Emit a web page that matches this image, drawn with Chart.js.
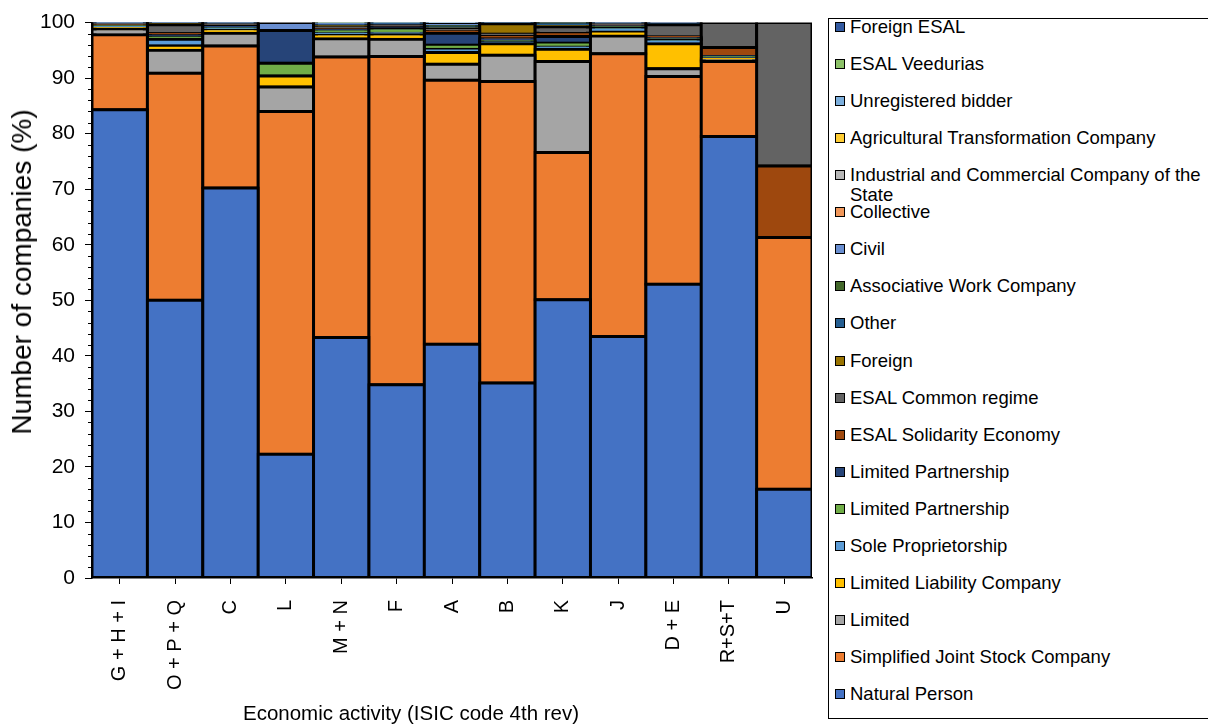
<!DOCTYPE html>
<html>
<head>
<meta charset="utf-8">
<script src="https://cdn.jsdelivr.net/npm/chart.js@4.4.1/dist/chart.umd.min.js"></script>
<style>
  body { margin: 0; background: #fff; font-family: "Liberation Sans", Arial, sans-serif; }
  #wrap { position: relative; width: 1208px; height: 728px; overflow: hidden; }
  #chart { position: absolute; left: 0; top: 0; }
  .axis-title { position: absolute; color: #000; white-space: nowrap; }
  #yTitle { left: 22px; top: 272px; font-size: 28px; transform: translate(-50%, -50%) rotate(-90deg); }
  #xTitle { left: 411px; top: 713px; font-size: 20.5px; transform: translate(-50%, -50%); }
  #legend { position: absolute; left: 828px; top: 18px; width: 400px; height: 701px; border: 1.5px solid #000; box-sizing: border-box; }
  .item { position: absolute; left: 0; width: 380px; font-size: 18.5px; line-height: 20px; color: #000; }
  .item .box { position: absolute; left: 6px; top: 5px; width: 10px; height: 10px; border: 1px solid #000; box-sizing: border-box; }
  .item .txt { position: absolute; left: 21px; top: 0; width: 356px; white-space: normal; }
</style>
</head>
<body>
<div id="wrap">
  <canvas id="chart" width="826" height="728"></canvas>
  <div id="yTitle" class="axis-title">Number of companies (%)</div>
  <div id="xTitle" class="axis-title">Economic activity (ISIC code 4th rev)</div>
  <div id="legend"></div>
</div>
<script>
// --- Data (percent of companies per economic activity) ---
const categories = ['G + H + I', 'O + P + Q', 'C', 'L', 'M + N', 'F', 'A', 'B', 'K', 'J', 'D + E', 'R+S+T', 'U'];

const naturalPerson   = [84.3, 50.0, 70.2, 22.3, 43.3, 34.8, 42.1, 35.1, 50.1, 43.5, 52.9, 79.5, 16.0];
const simplifiedJSC   = [13.5, 40.9, 25.6, 61.7, 50.5, 59.1, 47.5, 54.3, 26.5, 50.9, 37.4, 13.5, 45.3];
const limited         = [1.0, 4.1, 2.3, 4.4, 3.3, 3.1, 2.9, 4.7, 16.4, 3.2, 1.4, 0.2, 0];
const limitedLiab     = [0.2, 0.8, 0.5, 2.0, 0.6, 0.8, 2.1, 2.1, 2.2, 0.7, 4.5, 0.3, 0];
const soleProp        = [0.2, 1.2, 0.2, 0, 0.4, 0.3, 0.6, 0.2, 0.4, 0.7, 0.6, 0.1, 0];
const limPartGreen    = [0.1, 0.4, 0.1, 2.3, 0.4, 0.8, 0.7, 0.2, 0.7, 0.1, 0.1, 0.1, 0];
const limPartBlue     = [0.1, 0.3, 0.4, 5.9, 0.2, 0.2, 2.2, 0.5, 1.2, 0.2, 0.3, 0.2, 0];
const esalSolidarity  = [0.1, 0.3, 0.1, 0, 0.1, 0.1, 0.3, 0.4, 0.6, 0.1, 0.2, 1.6, 12.9];
const esalCommon      = [0.2, 1.6, 0.3, 0, 0.4, 0.3, 0.4, 0.4, 1.1, 0.3, 2.2, 4.5, 25.8];
const foreign         = [0, 0.1, 0, 0, 0.1, 0, 0.1, 1.9, 0.1, 0, 0, 0, 0];
const other           = [0.1, 0.1, 0.2, 0, 0.2, 0.2, 0.3, 0.1, 0.5, 0.2, 0.2, 0, 0];
const associativeWork = [0, 0, 0, 0, 0, 0, 0.1, 0, 0.1, 0, 0, 0, 0];
const civil           = [0.1, 0.1, 0.1, 1.4, 0.2, 0.1, 0.4, 0, 0.1, 0.1, 0.2, 0, 0];
const collective      = [0, 0, 0, 0, 0, 0, 0, 0, 0, 0, 0, 0, 0];
const industrialState = [0, 0, 0, 0, 0, 0, 0, 0, 0, 0, 0, 0, 0];
const agriTransform   = [0, 0, 0, 0, 0, 0, 0, 0, 0, 0, 0, 0, 0];
const unregistered    = [0.1, 0.1, 0, 0, 0.1, 0.1, 0.3, 0.1, 0, 0, 0, 0, 0];
const esalVeedurias   = [0, 0, 0, 0, 0.2, 0.1, 0, 0, 0, 0, 0, 0, 0];
const foreignEsal     = [0, 0, 0, 0, 0, 0, 0, 0, 0, 0, 0, 0, 0];

const yTicks = { min: 0, max: 100, step: 10, minorStep: 2 };

// series in stacking order (bottom -> top)
const series = [
    ['Natural Person', naturalPerson, '#4472C4'],
    ['Simplified Joint Stock Company', simplifiedJSC, '#ED7D31'],
    ['Limited', limited, '#A5A5A5'],
    ['Limited Liability Company', limitedLiab, '#FFC000'],
    ['Sole Proprietorship', soleProp, '#5B9BD5'],
    ['Limited Partnership', limPartGreen, '#70AD47'],
    ['Limited Partnership', limPartBlue, '#264478'],
    ['ESAL Solidarity Economy', esalSolidarity, '#9E480E'],
    ['ESAL Common regime', esalCommon, '#636363'],
    ['Foreign', foreign, '#997300'],
    ['Other', other, '#255E91'],
    ['Associative Work Company', associativeWork, '#43682B'],
    ['Civil', civil, '#698ED0'],
    ['Collective', collective, '#F1975A'],
    ['Industrial and Commercial Company of the State', industrialState, '#B7B7B7'],
    ['Agricultural Transformation Company', agriTransform, '#FFCD33'],
    ['Unregistered bidder', unregistered, '#7CAFDD'],
    ['ESAL Veedurias', esalVeedurias, '#8CC168'],
    ['Foreign ESAL', foreignEsal, '#335AA1']
];

const FONT = '"Liberation Sans", Arial, sans-serif';

// small tick marks between the labelled ones on the value axis
const minorTicks = {
    id: 'minorTicks',
    afterDraw(chart) {
        const y = chart.scales.y;
        const ctx = chart.ctx;
        ctx.save();
        ctx.strokeStyle = '#000';
        ctx.lineWidth = 1;
        for (let v = yTicks.min; v <= yTicks.max; v += yTicks.minorStep) {
            if (v % yTicks.step === 0) continue;
            const py = Math.round(y.getPixelForValue(v)) + 0.5;
            ctx.beginPath();
            ctx.moveTo(y.right - 4, py);
            ctx.lineTo(y.right, py);
            ctx.stroke();
        }
        ctx.restore();
    }
};

const chart = new Chart(document.getElementById('chart'), {
    type: 'bar',
    data: {
        labels: categories,
        datasets: series.map(([label, data, color]) => ({
            label: label,
            // empty segments are left out, otherwise the inflated fill shows a sliver
            data: data.map(v => v || null),
            backgroundColor: color,
            borderColor: '#000',
            // border centred on the segment edge, so very thin segments turn black
            borderWidth: 3,
            inflateAmount: 1.5,
            borderSkipped: false,
            barPercentage: 1,
            categoryPercentage: 1
        }))
    },
    options: {
        responsive: false,
        animation: false,
        layout: { padding: { top: 17, right: 14, left: 0, bottom: 0 } },
        plugins: { legend: { display: false }, tooltip: { enabled: false } },
        scales: {
            x: {
                stacked: true,
                afterFit: (scale) => { scale.height = 150; },
                grid: { display: true, drawOnChartArea: false, offset: false, tickLength: 6, color: '#000', lineWidth: 1 },
                border: { display: true, color: '#000', width: 1.5 },
                ticks: { autoSkip: false, minRotation: 90, maxRotation: 90, padding: 16, color: '#000', font: { family: FONT, size: 20 } }
            },
            y: {
                stacked: true,
                min: yTicks.min,
                max: yTicks.max,
                afterFit: (scale) => { scale.width = 92; },
                grid: { display: true, drawOnChartArea: false, tickLength: 7, color: '#000', lineWidth: 1 },
                border: { display: true, color: '#000', width: 1.5 },
                ticks: { stepSize: yTicks.step, padding: 10, color: '#000', font: { family: FONT, size: 21 } }
            }
        }
    },
    plugins: [minorTicks]
});

// --- Legend (reverse order, like the original) ---
const legendBox = document.getElementById('legend');
chart.data.datasets.slice().reverse().forEach((ds, i) => {
    const item = document.createElement('div');
    item.className = 'item';
    item.style.top = (26 + i * 37.06 - 18 - 10) + 'px';
    item.innerHTML = `<span class="box" style="background:${ds.backgroundColor}"></span><span class="txt">${ds.label}</span>`;
    legendBox.appendChild(item);
});
</script>
</body>
</html>
